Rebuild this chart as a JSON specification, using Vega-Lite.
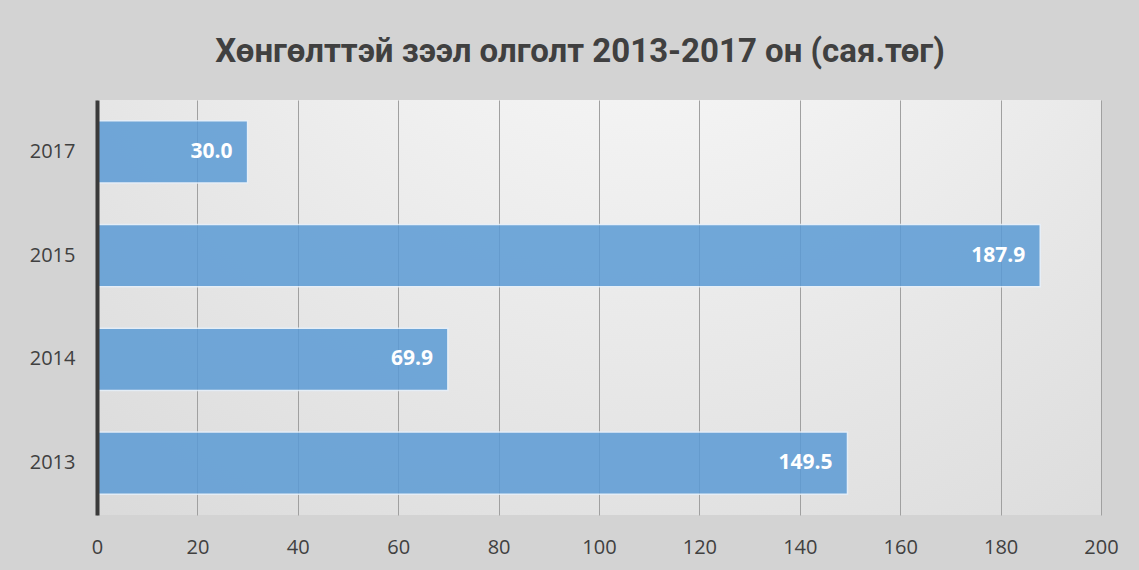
{
  "$schema": "https://vega.github.io/schema/vega-lite/v6.json",
  "width": 1004,
  "height": 415,
  "autosize": {"type": "none"},
  "padding": {"left": 97, "top": 100, "right": 38, "bottom": 55},
  "background": "#d3d3d3",
  "title": {
    "text": "Хөнгөлттэй зээл олголт 2013-2017 он (сая.төг)",
    "font": "Roboto",
    "fontSize": 33,
    "fontWeight": "bold",
    "color": "#404040",
    "anchor": "middle",
    "dx": -19,
    "offset": 31
  },
  "config": {
    "view": {
      "stroke": null,
      "fill": {
        "gradient": "radial",
        "x1": 0.55, "y1": 0.0, "r1": 0,
        "x2": 0.55, "y2": 0.0, "r2": 1.0,
        "stops": [
          {"offset": 0, "color": "#ffffff"},
          {"offset": 1, "color": "#d6d6d6"}
        ]
      }
    }
  },
  "data": {
    "values": [
      {"year": "2013", "value": 149.5},
      {"year": "2014", "value": 69.9},
      {"year": "2015", "value": 187.9},
      {"year": "2017", "value": 30.0}
    ]
  },
  "encoding": {
    "y": {
      "field": "year",
      "type": "nominal",
      "sort": "descending",
      "scale": {"paddingInner": 0.4, "paddingOuter": 0.2},
      "axis": {
        "title": null,
        "ticks": false,
        "domainColor": "#3a3a3a",
        "domainWidth": 4,
        "labelFont": "Open Sans",
        "labelFontSize": 20,
        "labelColor": "#404040",
        "labelPadding": 22,
        "zindex": 1
      }
    },
    "x": {
      "field": "value",
      "type": "quantitative",
      "scale": {"domain": [0, 200], "nice": false},
      "axis": {
        "title": null,
        "values": [0, 20, 40, 60, 80, 100, 120, 140, 160, 180, 200],
        "domain": false,
        "ticks": false,
        "grid": true,
        "gridColor": "#a0a0a0",
        "gridWidth": 1,
        "labelFont": "Open Sans",
        "labelFontSize": 20,
        "labelColor": "#404040",
        "labelPadding": 22,
        "labelFlush": false
      }
    }
  },
  "layer": [
    {
      "mark": {"type": "bar", "color": "#5b9bd5", "opacity": 0.85, "stroke": "#e6f0fa", "strokeWidth": 1.5}
    },
    {
      "mark": {"type": "text", "align": "right", "baseline": "middle", "dx": -15, "font": "Open Sans", "fontSize": 21, "fontWeight": "bold", "color": "#ffffff"},
      "encoding": {
        "text": {"field": "value", "type": "quantitative", "format": ".1f"}
      }
    }
  ]
}
